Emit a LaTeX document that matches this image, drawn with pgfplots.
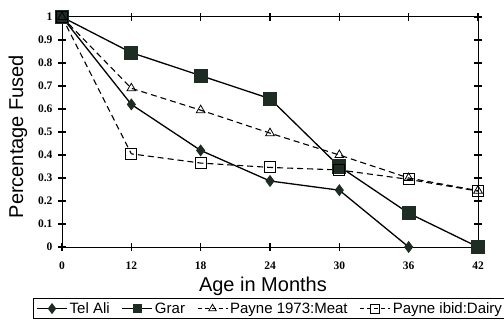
\documentclass[border=0pt]{standalone}
\usepackage{pgfplots}
\pgfplotsset{compat=1.18}
\usepackage{fontspec}
\setmainfont{Liberation Serif}
\newfontfamily\arial{Liberation Sans}
\definecolor{mk}{RGB}{30,45,35}
\begin{document}
\begin{tikzpicture}[x=1bp,y=1bp]
\begin{axis}[at={(0,0)}, anchor=south west, scale only axis,
  width=416bp, height=230bp,
  xmin=0, xmax=6, ymin=0, ymax=1,
  xtick={0,1,2,3,4,5,6}, xticklabels={0,12,18,24,30,36,42},
  ytick={0,0.1,0.2,0.3,0.4,0.5,0.6,0.7,0.8,0.9,1},
  yticklabels={0,0.1,0.2,0.3,0.4,0.5,0.6,0.7,0.8,0.9,1},
  tick align=center, major tick length=8bp,
  tick style={black, line width=1.2bp},
  axis line style={line width=1bp},
  ticklabel style={font=\fontsize{11.5bp}{13bp}\selectfont\bfseries},
  xticklabel style={yshift=-7bp},
  yticklabel style={xshift=-2bp},
  xlabel={Age in Months},
  ylabel={Percentage Fused},
  label style={font=\arial\fontsize{20bp}{24bp}\selectfont},
  xlabel style={at={(axis description cs:0.483,-0.17)}, anchor=center},
  ylabel style={at={(axis description cs:-0.106,0.48)}, anchor=center, rotate=0},
  clip=false,
  legend columns=4,
  legend style={at={(axis description cs:-0.0697,-0.2217)}, anchor=north west,
    draw=black, line width=0.8bp, font=\arial\fontsize{15bp}{17bp}\selectfont,
    inner xsep=3bp, inner ysep=2bp,
    /tikz/every even column/.append style={column sep=10bp}},
  legend image code/.code={
    \draw[mark repeat=2,mark phase=2] plot coordinates {(0bp,0bp) (15bp,0bp) (30bp,0bp)};},
]
\addplot[forget plot, line width=1.3bp, black, mark=diamond*, mark size=5bp,
  mark options={fill=mk, draw=mk, solid}]
  coordinates {(0,1) (1,0.62) (2,0.42) (3,0.287) (4,0.247) (5,0)};
\addplot[forget plot, line width=1.3bp, black, mark=square*, mark size=6.5bp,
  mark options={fill=mk, draw=mk, solid}]
  coordinates {(0,1) (1,0.845) (2,0.745) (3,0.645) (4,0.35) (5,0.147) (6,0)};
\addplot[forget plot, line width=1.1bp, black, dash pattern=on 6bp off 4bp, mark=triangle, mark size=5bp,
  mark options={fill=white, draw=black, solid, line width=0.8bp}]
  coordinates {(0,1) (1,0.69) (2,0.595) (3,0.495) (4,0.4) (5,0.3) (6,0.245)};
\addplot[forget plot, line width=1.1bp, black, dash pattern=on 6bp off 4bp, mark=square, mark size=5.5bp,
  mark options={fill=none, draw=black, solid, line width=1bp}]
  coordinates {(0,1) (1,0.405) (2,0.365) (3,0.346) (4,0.335) (5,0.294) (6,0.243)};
\addlegendimage{line width=1.3bp, black, mark=diamond*, mark size=4.5bp, mark options={fill=mk, draw=mk, solid}}
\addlegendentry{Tel Ali}
\addlegendimage{line width=1.3bp, black, mark=square*, mark size=4bp, mark options={fill=mk, draw=mk, solid}}
\addlegendentry{Grar}
\addlegendimage{line width=1.1bp, black, dash pattern=on 4bp off 3bp, mark=triangle, mark size=4.3bp, mark options={fill=white, draw=black, solid, line width=0.8bp}}
\addlegendentry{Payne 1973:Meat}
\addlegendimage{line width=1.1bp, black, dash pattern=on 4bp off 3bp, mark=square, mark size=4.5bp, mark options={fill=none, draw=black, solid, line width=1bp}}
\addlegendentry{Payne ibid:Dairy}
\end{axis}
\pgfresetboundingbox
\path (-62,-78) rectangle (442,247);
\end{tikzpicture}
\end{document}
